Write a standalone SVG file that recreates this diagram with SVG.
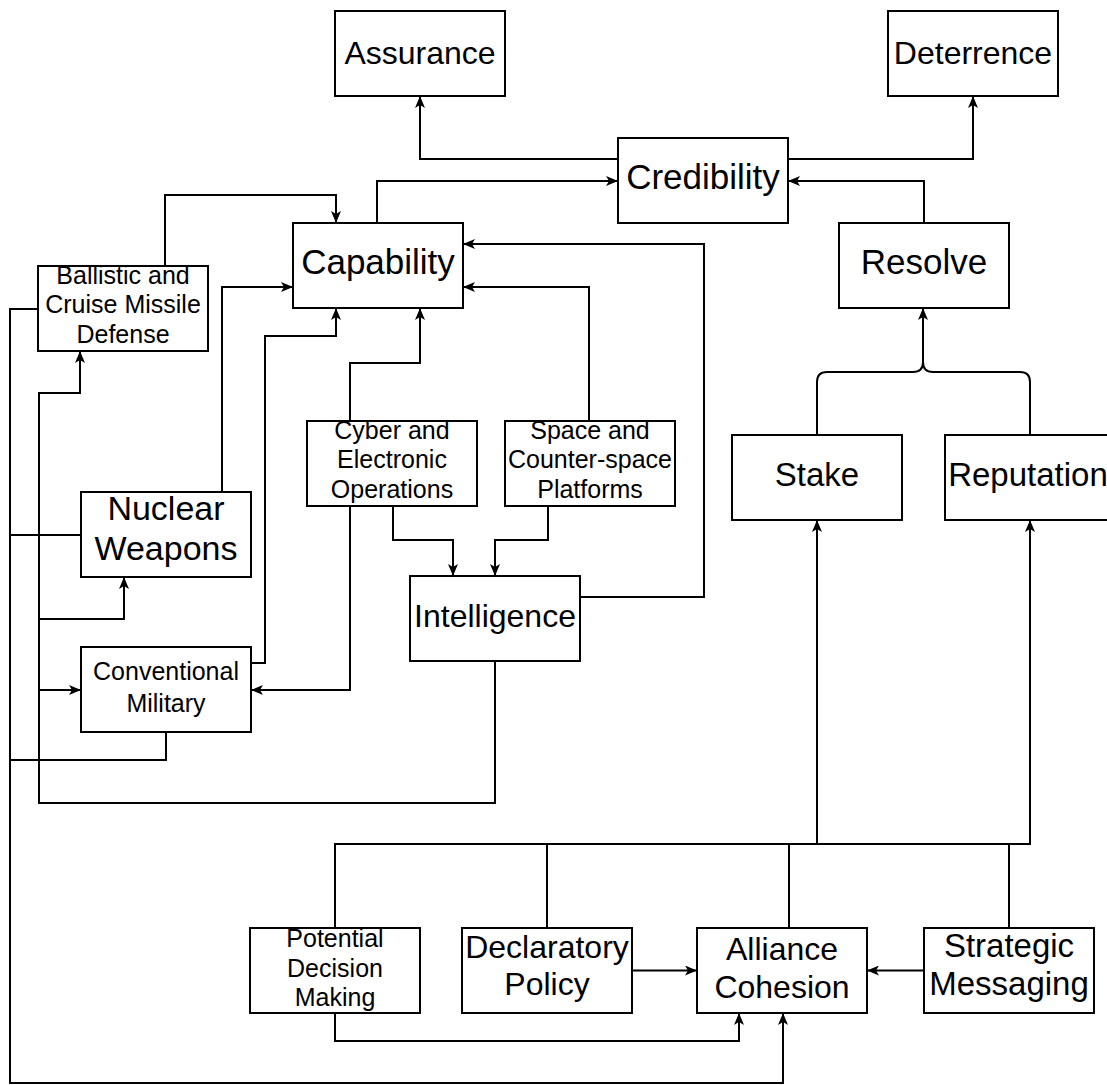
<svg xmlns="http://www.w3.org/2000/svg" width="1107" height="1085" viewBox="0 0 1107 1085">
<defs>
<style>
.box{fill:#fff;stroke:#000;stroke-width:2}
.ln{fill:none;stroke:#000;stroke-width:2}
.ar{fill:none;stroke:#000;stroke-width:2;marker-end:url(#arr)}
text{font-family:"Liberation Sans",Arial,Helvetica,sans-serif;fill:#000;text-anchor:middle}
.s{font-size:25px}
.m{font-size:32px}
.l{font-size:35px}
</style>
<marker id="arr" viewBox="0 0 12 10" refX="12" refY="5" markerWidth="12" markerHeight="10" markerUnits="userSpaceOnUse" orient="auto">
<path d="M0,0 L12,5 L0,10 L3,5 z" fill="#000"/>
</marker>
</defs>
<rect width="1107" height="1085" fill="#fff"/>
<g id="connectors">
<path class="ar" d="M618 159 H420 V96"/>
<path class="ar" d="M788 159 H973 V96"/>
<path class="ar" d="M377 223 V181 H618"/>
<path class="ar" d="M924 223 V181 H788"/>
<path class="ar" d="M165 266 V195 H336 V223"/>
<path class="ar" d="M222 492 V287 H293"/>
<path class="ar" d="M251 663 H265 V336 H336 V308"/>
<path class="ar" d="M350 421 V363 H420 V308"/>
<path class="ar" d="M589 421 V287 H463"/>
<path class="ar" d="M580 597 H704 V244 H463"/>
<path class="ar" d="M393 506 V540 H453 V576"/>
<path class="ar" d="M548 506 V540 H495 V576"/>
<path class="ar" d="M350 506 V690 H251"/>
<path class="ar" d="M495 661 V803 H39 V393 H80 V351"/>
<path class="ar" d="M39 619 H124 V577"/>
<path class="ar" d="M39 690 H81"/>
<path class="ar" d="M38 309 H10 V1083 H783 V1013"/>
<path class="ln" d="M81 535 H10"/>
<path class="ln" d="M166 732 V760 H10"/>
<path class="ln" d="M817 435 V382 Q817 372 827 372 H913 Q923 372 923 362 Q923 372 933 372 H1020 Q1030 372 1030 382 V435"/>
<path class="ar" d="M923 362 V308"/>
<path class="ar" d="M335 928 V844 H1030 V520"/>
<path class="ln" d="M547 928 V844"/>
<path class="ln" d="M789 928 V844"/>
<path class="ln" d="M1009 928 V844"/>
<path class="ar" d="M817 844 V520"/>
<path class="ar" d="M632 970.5 H697"/>
<path class="ar" d="M924 970.5 H867"/>
<path class="ar" d="M335 1013 V1041 H739 V1013"/>
</g>
<g id="assurance"><rect class="box" x="335" y="11" width="170" height="85"/><text class="m" x="420" y="64">Assurance</text></g>
<g id="deterrence"><rect class="box" x="888" y="11" width="170" height="85"/><text class="m" x="973" y="64">Deterrence</text></g>
<g id="credibility"><rect class="box" x="618" y="138" width="170" height="85"/><text class="l" x="703" y="188.5">Credibility</text></g>
<g id="capability"><rect class="box" x="293" y="223" width="170" height="85"/><text class="l" x="378" y="273.5">Capability</text></g>
<g id="resolve"><rect class="box" x="839" y="223" width="170" height="85"/><text class="l" x="924" y="274">Resolve</text></g>
<g id="ballistic"><rect class="box" x="38" y="266" width="170" height="85"/><text class="s" x="123" y="283.5">Ballistic and</text><text class="s" x="123" y="313">Cruise Missile</text><text class="s" x="123" y="342.5">Defense</text></g>
<g id="cyber"><rect class="box" x="307" y="421" width="170" height="85"/><text class="s" x="392" y="438.5">Cyber and</text><text class="s" x="392" y="468">Electronic</text><text class="s" x="392" y="497.5">Operations</text></g>
<g id="space"><rect class="box" x="505" y="421" width="170" height="85"/><text class="s" x="590" y="438.5">Space and</text><text class="s" x="590" y="468">Counter-space</text><text class="s" x="590" y="497.5">Platforms</text></g>
<g id="stake"><rect class="box" x="732" y="435" width="170" height="85"/><text x="817" y="486" style="font-size:33px">Stake</text></g>
<g id="reputation"><rect class="box" x="945" y="435" width="170" height="85"/><text x="1028" y="486" style="font-size:33px">Reputation</text></g>
<g id="nuclear"><rect class="box" x="81" y="492" width="170" height="85"/><text x="166" y="519.5" style="font-size:34px">Nuclear</text><text x="166" y="560" style="font-size:34px">Weapons</text></g>
<g id="intelligence"><rect class="box" x="410" y="576" width="170" height="85"/><text class="m" x="495" y="627">Intelligence</text></g>
<g id="conventional"><rect class="box" x="81" y="647" width="170" height="85"/><text class="s" x="166" y="680">Conventional</text><text class="s" x="166" y="711.5">Military</text></g>
<g id="potential"><rect class="box" x="250" y="928" width="170" height="85"/><text class="s" x="335" y="947">Potential</text><text class="s" x="335" y="976.5">Decision</text><text class="s" x="335" y="1006">Making</text></g>
<g id="declaratory"><rect class="box" x="462" y="928" width="170" height="85"/><text class="m" x="547" y="958">Declaratory</text><text class="m" x="547" y="995">Policy</text></g>
<g id="alliance"><rect class="box" x="697" y="928" width="170" height="85"/><text class="m" x="782" y="960">Alliance</text><text class="m" x="782" y="998">Cohesion</text></g>
<g id="strategic"><rect class="box" x="924" y="928" width="170" height="85"/><text x="1009" y="957" style="font-size:33px">Strategic</text><text x="1009" y="995" style="font-size:33px">Messaging</text></g>
</svg>
